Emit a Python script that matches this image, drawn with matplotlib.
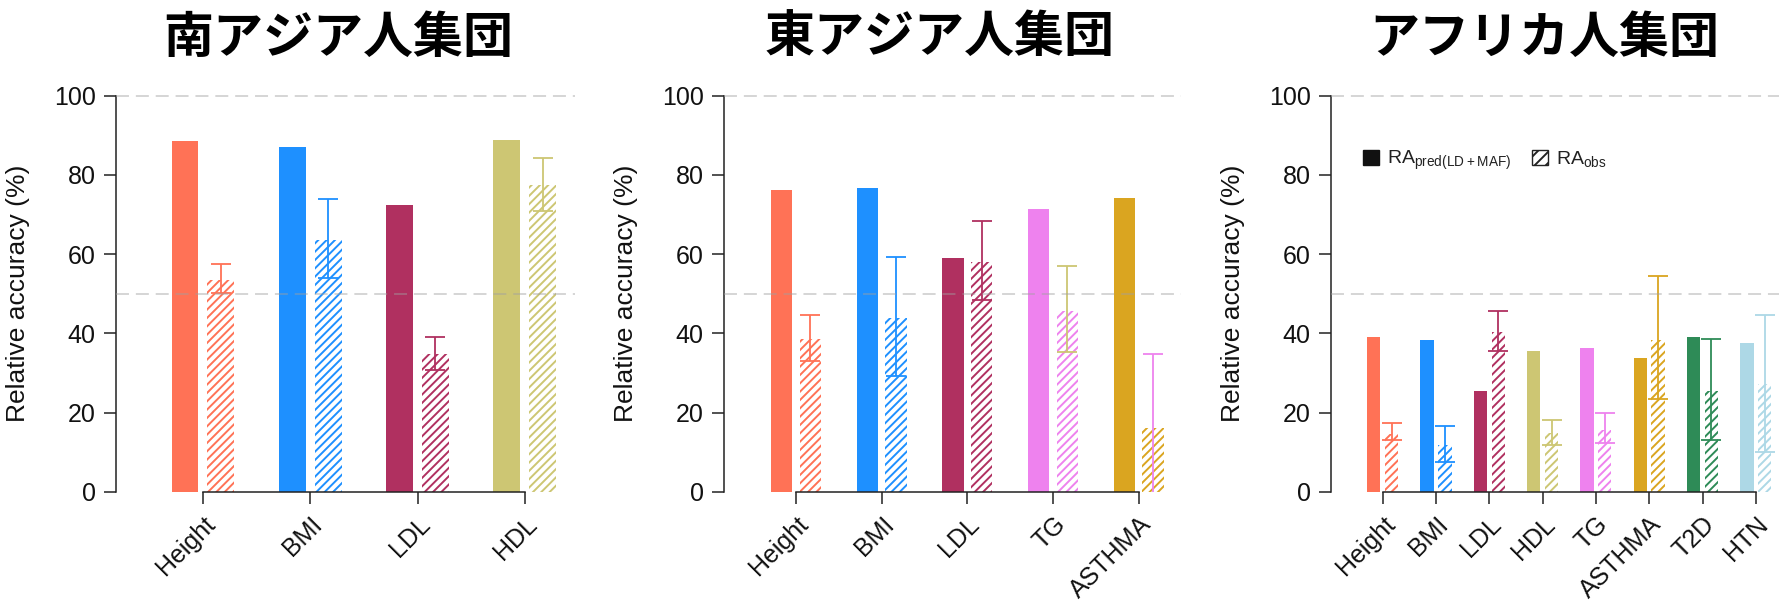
import matplotlib.pyplot as plt
from matplotlib.patches import Patch
import numpy as np

plt.rcParams['font.family'] = ['Liberation Sans', 'DejaVu Sans']
plt.rcParams['mathtext.default'] = 'regular'
plt.rcParams['hatch.linewidth'] = 1.4

# R colour names, one per trait
coral1 = '#FF7256'
dodgerblue = '#1E90FF'
maroon = '#B03060'
khaki3 = '#CDC673'
violet = '#EE82EE'
goldenrod = '#DAA520'
seagreen = '#2E8B57'
lightblue = '#ADD8E6'

# South Asian
sas_traits = ['Height', 'BMI', 'LDL', 'HDL']
sas_pred = [88.7, 87.1, 72.3, 88.8]
sas_obs = [53.5, 63.7, 34.7, 77.4]
sas_lo = [50.3, 54.1, 30.7, 71.0]
sas_hi = [57.5, 74.0, 39.1, 84.4]
sas_cols = [coral1, dodgerblue, maroon, khaki3]
sas_ecols = [coral1, dodgerblue, maroon, khaki3]

# East Asian
eas_traits = ['Height', 'BMI', 'LDL', 'TG', 'ASTHMA']
eas_pred = [76.2, 76.8, 59.0, 71.4, 74.2]
eas_obs = [38.5, 43.9, 58.1, 45.7, 16.1]
eas_lo = [32.9, 29.1, 48.3, 35.2, -4.0]
eas_hi = [44.6, 59.4, 68.5, 57.1, 34.8]
eas_cols = [coral1, dodgerblue, maroon, violet, goldenrod]
eas_ecols = [coral1, dodgerblue, maroon, khaki3, violet]

# African
afr_traits = ['Height', 'BMI', 'LDL', 'HDL', 'TG', 'ASTHMA', 'T2D', 'HTN']
afr_pred = [39.2, 38.3, 25.4, 35.6, 36.3, 33.7, 39.0, 37.5]
afr_obs = [14.7, 11.7, 40.3, 14.8, 15.7, 38.2, 25.4, 27.1]
afr_lo = [13.1, 7.4, 35.5, 11.9, 12.4, 23.3, 13.0, 10.0]
afr_hi = [17.4, 16.7, 45.7, 18.1, 19.9, 54.5, 38.5, 44.7]
afr_cols = [coral1, dodgerblue, maroon, khaki3, violet, goldenrod, seagreen, lightblue]
afr_ecols = afr_cols

titles = ['南アジア人集団', '東アジア人集団', 'アフリカ人集団']

W, H = 1779, 603
fig = plt.figure(figsize=(W / 100, H / 100), dpi=100)

# panel geometry in pixels: left spine x, px per category, xlim
y0_px = 491.7
px_per_unit_y = 3.959
ytop = 105
layout = [(116.0, 107.3, (-0.81, 3.47)),
          (724.0, 85.7, (-0.84, 4.49)),
          (1331.0, 53.3, (-0.97, 7.49))]
title_x = [338, 940, 1544]

bw = 0.25
off = 0.167
axcol = '#222222'


def draw_panel(ax, traits, pred, obs, lo, hi, cols, ecols, width_px):
    x = np.arange(len(traits))
    obs = np.array(obs)
    ax.bar(x - off, pred, width=bw, color=cols, linewidth=0, zorder=2)
    ax.bar(x + off, obs, width=bw, color='white', edgecolor=cols,
           hatch='////', linewidth=0, zorder=2)
    for i in range(len(x)):
        ax.errorbar(x[i] + off, obs[i],
                    yerr=[[obs[i] - lo[i]], [hi[i] - obs[i]]],
                    fmt='none', ecolor=ecols[i], elinewidth=1.3,
                    capsize=7.2, capthick=1.3, zorder=3)
    for yv in (50, 100):
        ax.axhline(yv, color='#a0a0a0', alpha=0.55, lw=1.1,
                   ls=(0, (8.5, 4.5)), zorder=4, clip_on=False)

    for s in ('top', 'right'):
        ax.spines[s].set_visible(False)
    ax.spines['left'].set_bounds(0, 100)
    ax.spines['bottom'].set_bounds(0, len(x) - 1)
    for s in ('left', 'bottom'):
        ax.spines[s].set_linewidth(1.1)
        ax.spines[s].set_color(axcol)

    ax.set_ylim(0, ytop)
    ax.set_yticks([0, 20, 40, 60, 80, 100])
    ax.set_xticks(x, traits, rotation=45, ha='right', rotation_mode='anchor')
    ax.tick_params(direction='out', length=8.7, width=1.1, color=axcol,
                   labelsize=18, labelcolor='#111111')
    ax.tick_params(axis='y', pad=6)
    ax.tick_params(axis='x', pad=6)

    ax.set_ylabel('Relative accuracy (%)', fontsize=19, color='#111111')
    ax.yaxis.set_label_coords(-85.6 / width_px, 50 / ytop)


panels = [(sas_traits, sas_pred, sas_obs, sas_lo, sas_hi, sas_cols, sas_ecols),
          (eas_traits, eas_pred, eas_obs, eas_lo, eas_hi, eas_cols, eas_ecols),
          (afr_traits, afr_pred, afr_obs, afr_lo, afr_hi, afr_cols, afr_ecols)]

axes = []
for (left, unit, xl), p, t, tx in zip(layout, panels, titles, title_x):
    width_px = (xl[1] - xl[0]) * unit
    ax = fig.add_axes([left / W, (H - y0_px) / H, width_px / W,
                       ytop * px_per_unit_y / H])
    ax.set_xlim(*xl)
    draw_panel(ax, *p, width_px)
    axes.append(ax)
    fig.text(tx / W, 1 - 38 / H, t, fontsize=36, fontweight='bold',
             family=['Noto Sans CJK JP', 'DejaVu Sans'],
             ha='center', va='center')

# legend for the African panel
handles = [Patch(facecolor='#111111', edgecolor='#111111', linewidth=1),
           Patch(facecolor='white', edgecolor='#222222', hatch='///', linewidth=1)]
labels = [r'RA$_{\mathregular{pred(LD + MAF)}}$', r'RA$_{\mathregular{obs}}$']
axes[2].legend(handles, labels, loc='center left',
               bbox_to_anchor=(0.0714, 83.6 / ytop), ncol=2, frameon=False,
               fontsize=14, handlelength=0.8, handleheight=0.8,
               handletextpad=0.4, columnspacing=1.1, borderaxespad=0,
               borderpad=0, labelcolor='#222222')

fig.savefig('out.png', dpi=100)
